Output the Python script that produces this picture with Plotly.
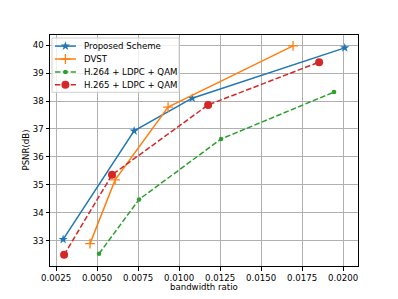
import plotly.graph_objects as go

proposed_x = [0.00293, 0.00726, 0.0108, 0.0201]
proposed_y = [33.05, 36.93, 38.10, 39.90]
dvst_x = [0.00457, 0.0061, 0.00933, 0.01695]
dvst_y = [32.90, 35.18, 37.78, 39.97]
h264_x = [0.00512, 0.00756, 0.01256, 0.01945]
h264_y = [32.54, 34.48, 36.64, 38.32]
h265_x = [0.00299, 0.00591, 0.01177, 0.01854]
h265_y = [32.50, 35.36, 37.86, 39.39]

series_names = ["Proposed Scheme", "DVST", "H.264 + LDPC + QAM", "H.265 + LDPC + QAM"]
x_ticks = [0.0025, 0.005, 0.0075, 0.01, 0.0125, 0.015, 0.0175, 0.02]
x_tick_labels = ["0.0025", "0.0050", "0.0075", "0.0100", "0.0125", "0.0150", "0.0175", "0.0200"]
y_ticks = [33, 34, 35, 36, 37, 38, 39, 40]
x_title = "bandwidth ratio"
y_title = "PSNR(dB)"

colors = ["#1f77b4", "#ff7f0e", "#2ca02c", "#d62728"]
dashes = ["solid", "solid", "5.5px,2.4px", "5.5px,2.4px"]
markers = [
    dict(symbol="star", size=7),
    dict(symbol="cross-thin", size=7),
    dict(symbol="circle", size=4.5),
    dict(symbol="circle", size=8),
]
FS = 8.6

def marker_style(i):
    m = dict(markers[i], color=colors[i])
    if m["symbol"] == "cross-thin":
        m["line"] = dict(color=colors[i], width=1.3)
    return m

fig = go.Figure()
data = [(proposed_x, proposed_y), (dvst_x, dvst_y), (h264_x, h264_y), (h265_x, h265_y)]
for i, (xs, ys) in enumerate(data):
    fig.add_trace(go.Scatter(x=xs, y=ys, mode="lines+markers", name=series_names[i],
                             line=dict(color=colors[i], width=1.5, dash=dashes[i]),
                             marker=marker_style(i), showlegend=False))

# ---- custom legend (matplotlib-like, compact) drawn on an overlay axis in axes-fraction units
leg_x0, leg_x1, leg_y0, leg_y1 = 0.0065, 0.419, 0.752, 0.987
row_y = [0.952, 0.896, 0.840, 0.785]
line_x0, line_x1, mark_x, text_x = 0.016, 0.084, 0.050, 0.104

fig.add_trace(go.Scatter(x=[leg_x0, leg_x1, leg_x1, leg_x0, leg_x0],
                         y=[leg_y0, leg_y0, leg_y1, leg_y1, leg_y0],
                         mode="lines", fill="toself", fillcolor="rgba(255,255,255,0.8)",
                         line=dict(color="#d0d0d0", width=1), xaxis="x2", yaxis="y2",
                         showlegend=False, hoverinfo="skip"))
for i in range(4):
    fig.add_trace(go.Scatter(x=[line_x0, line_x1], y=[row_y[i], row_y[i]], mode="lines",
                             line=dict(color=colors[i], width=1.5, dash=dashes[i]),
                             xaxis="x2", yaxis="y2", showlegend=False, hoverinfo="skip"))
    fig.add_trace(go.Scatter(x=[mark_x], y=[row_y[i]], mode="markers", marker=marker_style(i),
                             xaxis="x2", yaxis="y2", showlegend=False, hoverinfo="skip"))
    fig.add_annotation(x=text_x, y=row_y[i], xref="x domain", yref="y domain",
                       text=series_names[i], showarrow=False, xanchor="left", yanchor="middle",
                       font=dict(size=FS, color="black"))

# axis titles placed like matplotlib (paper coordinates = plot area fractions)
fig.add_annotation(x=0.5, y=-0.091, xref="paper", yref="paper", text=x_title,
                   showarrow=False, xanchor="center", yanchor="middle", font=dict(size=FS, color="black"))
fig.add_annotation(x=-0.081, y=0.5, xref="paper", yref="paper", text=y_title, textangle=-90,
                   showarrow=False, xanchor="center", yanchor="middle", font=dict(size=FS, color="black"))

axis_common = dict(showline=True, linecolor="black", linewidth=1, mirror=True,
                   ticks="outside", ticklen=3.5, tickcolor="black", automargin=False,
                   showgrid=True, gridcolor="#b0b0b0", gridwidth=0.8, zeroline=False,
                   tickfont=dict(size=FS, color="black"))

fig.update_layout(
    width=398, height=299,
    margin=dict(l=50, r=40, t=35, b=33),
    paper_bgcolor="white", plot_bgcolor="white",
    font=dict(family="DejaVu Sans", size=FS, color="black"),
    xaxis=dict(range=[0.00213, 0.02091], tickvals=x_ticks, ticktext=x_tick_labels, **axis_common),
    yaxis=dict(range=[32.1, 40.36], tickvals=y_ticks, **axis_common),
    xaxis2=dict(overlaying="x", anchor="y2", range=[0, 1], visible=False, fixedrange=True),
    yaxis2=dict(overlaying="y", anchor="x2", range=[0, 1], visible=False, fixedrange=True),
    showlegend=False,
)

fig.write_html("out.html", post_script="document.body.style.margin='0';",
               config={"displayModeBar": False})
